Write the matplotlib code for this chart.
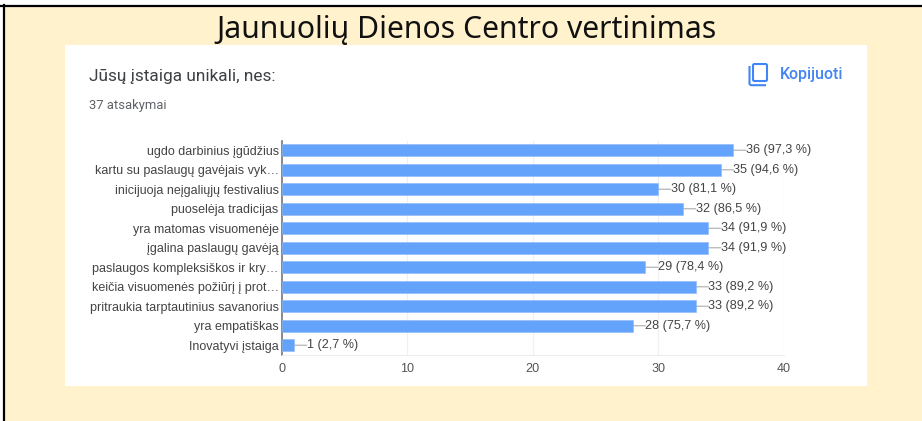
import matplotlib
matplotlib.use("Agg")
import matplotlib.pyplot as plt
from matplotlib.patches import Rectangle, FancyBboxPatch

title = "Jaunuolių Dienos Centro vertinimas"
question = "Jūsų įstaiga unikali, nes:"
answers = "37 atsakymai"
copy_label = "Kopijuoti"

categories = [
    "ugdo darbinius įgūdžius",
    "kartu su paslaugų gavėjais vyk…",
    "inicijuoja neįgaliųjų festivalius",
    "puoselėja tradicijas",
    "yra matomas visuomenėje",
    "įgalina paslaugų gavėją",
    "paslaugos kompleksiškos ir kry…",
    "keičia visuomenės požiūrį į prot…",
    "pritraukia tarptautinius savanorius",
    "yra empatiškas",
    "Inovatyvi įstaiga",
]
counts = [36, 35, 30, 32, 34, 34, 29, 33, 33, 28, 1]
percents = ["97,3", "94,6", "81,1", "86,5", "91,9", "91,9", "78,4", "89,2", "89,2", "75,7", "2,7"]
xticks = [0, 10, 20, 30, 40]

W, H = 922, 421
fig = plt.figure(figsize=(W / 100, H / 100), dpi=100, facecolor="white")

# whole picture in pixel coordinates for the page around the chart
bg = fig.add_axes([0, 0, 1, 1])
bg.set_xlim(0, W)
bg.set_ylim(H, 0)
bg.axis("off")
bg.add_patch(Rectangle((4, 6), W - 4, H - 6, color="#fff2cc", lw=0))
bg.plot([0, W], [5.5, 5.5], color="black", lw=1.6)
bg.plot([4, 4], [5, H], color="black", lw=1.6)
bg.add_patch(Rectangle((65, 45), 802, 341, color="white", lw=0))

bg.text(466, 30, title, ha="center", va="center", fontsize=21.7, family="Noto Sans", color="#111111")
bg.text(89, 76, question, ha="left", va="center", fontsize=12.45, family="Roboto", color="#3c4043")
bg.text(89, 106, answers, ha="left", va="center", fontsize=9.4, family="Roboto", color="#5f6368")
bg.text(780, 75, copy_label, ha="left", va="center", fontsize=11.4, family="Roboto",
        weight="medium", color="#4285f4")

# copy icon
bg.add_patch(FancyBboxPatch((753, 64), 14, 17, boxstyle="round,pad=0,rounding_size=1.5",
                            fill=False, ec="#4285f4", lw=1.5))
bg.plot([749.5, 749.5, 751, 765], [67, 84, 85.2, 85.2], color="#4285f4", lw=1.5)

# chart axes placed so that 0 and 40 land on the reference pixels
x0, x40 = 281.5, 783.5
top, bottom = 140.5, 355
ax = fig.add_axes([x0 / W, 1 - bottom / H, (x40 - x0) / W, (bottom - top) / H])
ax.set_xlim(0, 40)
ax.set_ylim(len(categories) - 0.5, -0.5)
ax.patch.set_alpha(0)

ypos = list(range(len(categories)))
ax.barh(ypos, counts, height=0.62, color="#64a3fb", edgecolor="#8ab8fa", lw=0.4, zorder=3)

for y, c, p in zip(ypos, counts, percents):
    ax.annotate("", xy=(c + 1, y), xytext=(c, y),
                arrowprops=dict(arrowstyle="-", color="#b5b5b5", lw=0.9, shrinkA=0, shrinkB=0), zorder=2)
    ax.text(c + 1.0, y, f"{c} ({p} %)", ha="left", va="center", fontsize=9.1,
            family="Liberation Sans", color="#444444", zorder=4)

ax.set_xticks(xticks)
ax.set_yticks(ypos)
ax.set_yticklabels(categories, fontsize=9.0, family="Liberation Sans", color="#444444")
ax.tick_params(axis="y", length=0, pad=2)
ax.tick_params(axis="x", length=0, pad=6, labelsize=9.1, labelcolor="#555555")
for lab in ax.get_xticklabels():
    lab.set_family("Liberation Sans")

ax.grid(axis="x", color="#f0f0f0", lw=0.9, zorder=0)
ax.set_axisbelow(True)
for side in ["top", "right"]:
    ax.spines[side].set_visible(False)
ax.spines["bottom"].set_color("#eeeeee")
ax.spines["left"].set_color("#777777")
ax.spines["left"].set_linewidth(1.2)

fig.savefig("out.png", dpi=100)
